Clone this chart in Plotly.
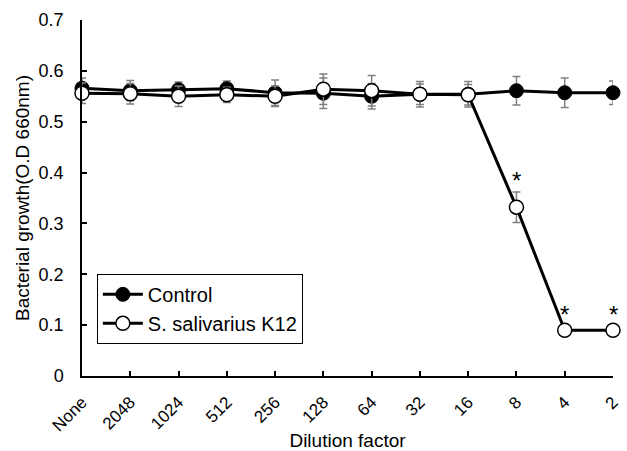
import plotly.graph_objects as go

categories = ["None", "2048", "1024", "512", "256", "128", "64", "32", "16", "8", "4", "2"]
control = [0.566, 0.561, 0.563, 0.565, 0.557, 0.556, 0.550, 0.554, 0.554, 0.561, 0.557, 0.557]
control_err = [0.02, 0.02, 0.015, 0.015, 0.025, 0.03, 0.025, 0.025, 0.025, 0.028, 0.029, 0.023]
k12 = [0.556, 0.555, 0.550, 0.553, 0.550, 0.564, 0.561, 0.554, 0.553, 0.332, 0.090, 0.090]
k12_err = [0.02, 0.02, 0.02, 0.015, 0.02, 0.03, 0.03, 0.02, 0.02, 0.03, 0.008, 0.008]
significant = ["8", "4", "2"]
y_ticks = [0, 0.1, 0.2, 0.3, 0.4, 0.5, 0.6, 0.7]
y_ticktext = ["0", "0.1", "0.2", "0.3", "0.4", "0.5", "0.6", "0.7"]

xs = list(range(len(categories)))
font = "Liberation Sans, Arial, sans-serif"

fig = go.Figure()
fig.add_trace(go.Scatter(
    x=xs, y=control, name="Control", mode="lines+markers",
    line=dict(color="black", width=3),
    marker=dict(size=14, color="black", line=dict(color="black", width=1)),
    error_y=dict(type="data", array=control_err, color="#808080", thickness=1.5, width=4),
    cliponaxis=False,
))
fig.add_trace(go.Scatter(
    x=xs, y=k12, name="S. salivarius K12", mode="lines+markers",
    line=dict(color="black", width=3),
    marker=dict(size=14, color="white", line=dict(color="black", width=1.5)),
    error_y=dict(type="data", array=k12_err, color="#808080", thickness=1.5, width=4),
    cliponaxis=False,
))

for c in significant:
    i = categories.index(c)
    fig.add_annotation(x=i, y=k12[i] + k12_err[i], text="*", showarrow=False,
                       yanchor="bottom", yshift=-4, font=dict(size=24, color="black", family=font))

fig.update_layout(
    width=627, height=451,
    margin=dict(l=82, r=14, t=20, b=75),
    paper_bgcolor="white", plot_bgcolor="white",
    font=dict(family=font, size=17, color="black"),
    showlegend=True,
    legend=dict(x=0.028, y=0.287, xanchor="left", yanchor="top",
                bordercolor="black", borderwidth=1, bgcolor="white",
                font=dict(size=20), itemwidth=40, tracegroupgap=0),
    xaxis=dict(
        range=[0, 11], tickmode="array", tickvals=xs, ticktext=categories,
        tickangle=-45, ticks="inside", ticklen=5, tickcolor="black", tickwidth=1.5,
        showline=True, linecolor="black", linewidth=1.5, showgrid=False, zeroline=False,
        title=dict(text="Dilution factor", font=dict(size=19), standoff=10),
        tickfont=dict(size=17), automargin=False, ticklabelstandoff=8,
    ),
    yaxis=dict(
        range=[0, 0.7], tickmode="array", tickvals=y_ticks, ticktext=y_ticktext,
        ticks="inside", ticklen=5, tickcolor="black", tickwidth=1.5,
        showline=True, linecolor="black", linewidth=1.5, showgrid=False, zeroline=False,
        title=dict(text="Bacterial growth(O.D 660nm)", font=dict(size=19), standoff=4),
        tickfont=dict(size=18), automargin=False, ticklabelstandoff=13,
    ),
)

fig.write_html("out.html", config={"displayModeBar": False},
               post_script="document.body.style.margin='0';document.body.style.overflow='hidden';")
